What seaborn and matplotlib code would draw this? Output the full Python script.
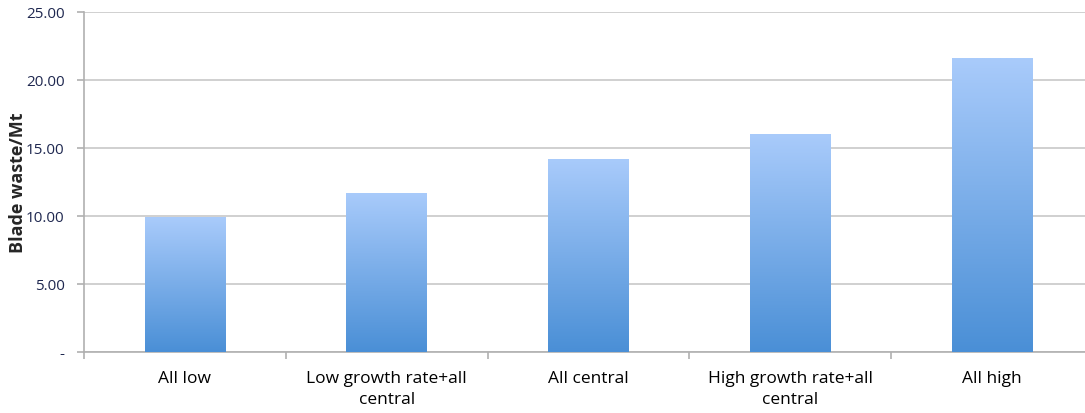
import numpy as np
import pandas as pd
import matplotlib
matplotlib.use("Agg")
import matplotlib.pyplot as plt
import seaborn as sns
from matplotlib.colors import LinearSegmentedColormap
from matplotlib.ticker import FixedLocator

scenarios = ["All low", "Low growth rate+all\ncentral", "All central",
             "High growth rate+all\ncentral", "All high"]
blade_waste = [9.9, 11.7, 14.2, 16.0, 21.6]
y_ticks = [0, 5, 10, 15, 20, 25]
y_tick_labels = ["-", "5.00", "10.00", "15.00", "20.00", "25.00"]

df = pd.DataFrame({"scenario": scenarios, "waste": blade_waste})

sns.set_theme(style="white")
plt.rcParams["font.family"] = ["Open Sans", "DejaVu Sans"]

fig = plt.figure(figsize=(10.85, 4.14), dpi=100)
ax = fig.add_axes([84 / 1085, 1 - 353 / 414, (1093 - 84) / 1085, 340 / 414])

sns.barplot(data=df, x="scenario", y="waste", width=0.40, color="#6fa6e8",
            saturation=1, ax=ax, zorder=3)

# vertical blue gradient inside each bar
grad_cmap = LinearSegmentedColormap.from_list("bar", ["#4a8fd6", "#a9cbfb"])
gradient = np.linspace(0, 1, 256).reshape(-1, 1)
for patch in ax.patches:
    x0, y0 = patch.get_x(), patch.get_y()
    w, h = patch.get_width(), patch.get_height()
    patch.set_facecolor("none")
    patch.set_edgecolor("none")
    im = ax.imshow(gradient, cmap=grad_cmap, origin="lower", aspect="auto",
                   extent=[x0, x0 + w, y0, y0 + h], zorder=3)
    im.set_clip_path(patch)

ax.set_xlim(-0.5, len(scenarios) - 0.5)
ax.set_ylim(0, 25)
ax.yaxis.set_major_locator(FixedLocator(y_ticks))
ax.set_yticklabels(y_tick_labels, color="#1f2850", fontsize=11)
ax.set_xticks(range(len(scenarios)))
ax.set_xticklabels(scenarios, fontsize=12.5, color="black", linespacing=1.45)
ax.xaxis.set_minor_locator(FixedLocator(np.arange(-0.5, len(scenarios), 1.0)))

ax.grid(axis="y", color="#c8c8c8", linewidth=1.2, zorder=0)
ax.grid(axis="x", visible=False)
for side in ["top", "right"]:
    ax.spines[side].set_visible(False)
for side in ["left", "bottom"]:
    ax.spines[side].set_color("#b0b0b0")
    ax.spines[side].set_linewidth(1.2)

ax.tick_params(axis="y", which="major", left=True, length=5, width=1.2,
               color="#b0b0b0", pad=9)
ax.tick_params(axis="x", which="major", bottom=False, length=0, pad=13)
ax.tick_params(axis="x", which="minor", bottom=True, length=5, width=1.2,
               color="#b0b0b0")

ax.set_xlabel("")
ax.set_ylabel("Blade waste/Mt", fontsize=13, fontweight="bold")
ax.yaxis.set_label_coords(-0.056, 0.5)

fig.savefig("out.png", dpi=100)
